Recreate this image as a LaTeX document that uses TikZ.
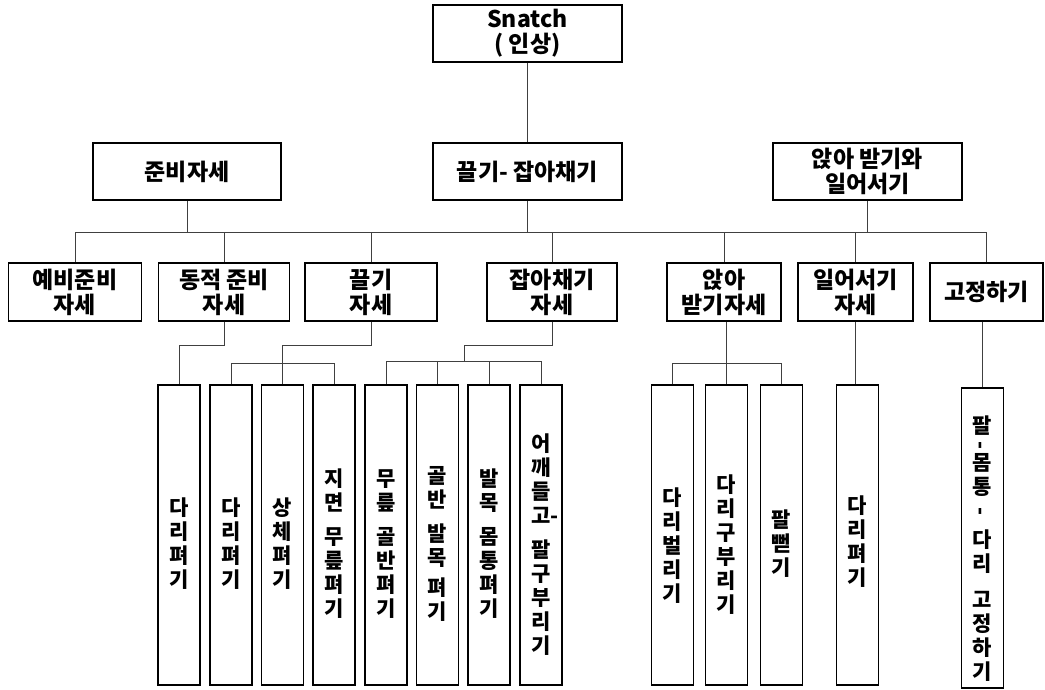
\documentclass[tikz,border=0pt]{standalone}
\usepackage{fontspec}
\usepackage{graphicx}
\setmainfont{Noto Sans CJK KR}
\newcommand{\vbar}{\rotatebox{90}{-}}
\begin{document}
\begin{tikzpicture}[x=1pt,y=-1pt,
  box/.style={draw=black, line width=1.8pt, rectangle, inner sep=0pt, align=center,
    font=\fontsize{23}{25}\selectfont\bfseries},
  vbox/.style={draw=black, line width=1.8pt, rectangle, inner sep=0pt,
    minimum width=42pt, minimum height=300pt},
  vtext/.style={align=center, inner sep=0pt, font=\fontsize{21}{24}\selectfont\bfseries},
  conn/.style={draw=black!75, line width=1pt}]
\useasboundingbox (0,0) rectangle (1045,689);

% top
\node[box, minimum width=189pt, minimum height=57pt] (S) at (527.5,33.5) {Snatch\\( 인상)};
% second row
\node[box, minimum width=188pt, minimum height=57pt] (A) at (187,171.5) {준비자세};
\node[box, minimum width=189pt, minimum height=57pt] (B) at (527.5,171.5) {끌기- 잡아채기};
\node[box, minimum width=189pt, minimum height=57pt] (C) at (867.5,171.5) {앉아 받기와\\일어서기};
% third row
\node[box, minimum width=133pt, minimum height=58pt] (r1) at (75,292) {예비준비\\자세};
\node[box, minimum width=131pt, minimum height=58pt] (r2) at (224,292) {동적 준비\\자세};
\node[box, minimum width=132pt, minimum height=58pt] (r3) at (371,292) {끌기\\자세};
\node[box, minimum width=130pt, minimum height=58pt] (r4) at (552,292) {잡아채기\\자세};
\node[box, minimum width=114pt, minimum height=58pt] (r5) at (724,292) {앉아\\받기자세};
\node[box, minimum width=115pt, minimum height=58pt] (r6) at (855.5,292) {일어서기\\자세};
\node[box, minimum width=113pt, minimum height=58pt] (r7) at (986.5,292) {고정하기};
% bottom boxes
\node[vbox] (b1) at (179,535) {};
\node[vbox] (b2) at (231,535) {};
\node[vbox] (b3) at (282.5,535) {};
\node[vbox] (b4) at (334,535) {};
\node[vbox] (b5) at (386,535) {};
\node[vbox] (b6) at (437.5,535) {};
\node[vbox] (b7) at (489,535) {};
\node[vbox] (b8) at (541,535) {};
\node[vbox] (b9) at (672.5,535) {};
\node[vbox] (b10) at (726.5,535) {};
\node[vbox] (b11) at (781.5,535) {};
\node[vbox] (b12) at (857.5,535) {};
\node[vbox] (b13) at (982.5,538) {};

% vertical texts
\node[vtext] (t1) at ([yshift=-9pt]b1.center) {다\\리\\펴\\기};
\node[vtext] (t2) at ([yshift=-9pt]b2.center) {다\\리\\펴\\기};
\node[vtext] (t3) at ([yshift=-9pt]b3.center) {상\\체\\펴\\기};
\node[vtext] (t4) at ([yshift=-9pt]b4.center) {지\\면\\[10pt]무\\릎\\펴\\기};
\node[vtext] (t5) at ([yshift=-9pt]b5.center) {무\\릎\\[10pt]골\\반\\펴\\기};
\node[vtext] (t6) at ([yshift=-9pt]b6.center) {골\\반\\[10pt]발\\목\\[6pt]펴\\기};
\node[vtext] (t7) at ([yshift=-9pt]b7.center) {발\\목\\[10pt]몸\\통\\펴\\기};
\node[vtext] (t8) at ([yshift=-10pt]b8.center) {어\\깨\\들\\고\makebox[0pt][l]{-}\\[10pt]팔\\구\\부\\리\\기};
\node[vtext] (t9) at ([yshift=-11pt]b9.center) {다\\리\\벌\\리\\기};
\node[vtext] (t10) at ([yshift=-10pt]b10.center) {다\\리\\구\\부\\리\\기};
\node[vtext] (t11) at ([yshift=-9pt]b11.center) {팔\\뻗\\기};
\node[vtext] (t12) at ([yshift=-7pt]b12.center) {다\\리\\펴\\기};
\node[vtext] (t13) at ([yshift=-11pt]b13.center) {팔\\[-8pt]\vbar\\[-3pt]몸\\통\\[-3pt]\vbar\\[8pt]다\\리\\[12pt]고\\정\\하\\기};

% connectors
\coordinate (busL) at (0,232);
\coordinate (e1) at (0,345);
\coordinate (e2) at (0,363);
\coordinate (j4) at (464,361);

\draw[conn] (S.south) -- (B.north);
\draw[conn] (A.south) -- (A.south |- busL);
\draw[conn] (B.south) -- (B.south |- busL);
\draw[conn] (C.south) -- (C.south |- busL);
\draw[conn] (r1.north) -- (r1.north |- busL) -- (r7.north |- busL) -- (r7.north);
\draw[conn] (r2.north) -- (r2.north |- busL);
\draw[conn] (r3.north) -- (r3.north |- busL);
\draw[conn] (r4.north) -- (r4.north |- busL);
\draw[conn] (r5.north) -- (r5.north |- busL);
\draw[conn] (r6.north) -- (r6.north |- busL);

\draw[conn] (r2.south) -- (r2.south |- e1) -| (b1.north);
\draw[conn] (r3.south) -- (r3.south |- e1) -| (b3.north);
\draw[conn] (b2.north) -- (b2.north |- e2) -- (b4.north |- e2) -- (b4.north);

\draw[conn] (r4.south) -- (r4.south |- e1) -| (j4);
\draw[conn] (b5.north) -- (b5.north |- j4) -- (b8.north |- j4) -- (b8.north);
\draw[conn] (b6.north) -- (b6.north |- j4);
\draw[conn] (b7.north) -- (b7.north |- j4);

\draw[conn] (b10.north) -- (b10.north |- r5.south);
\draw[conn] (b9.north) -- (b9.north |- e2) -- (b11.north |- e2) -- (b11.north);
\draw[conn] (r6.south) -- (r6.south |- b12.north);
\draw[conn] (b13.north) -- (b13.north |- r7.south);
\end{tikzpicture}
\end{document}
